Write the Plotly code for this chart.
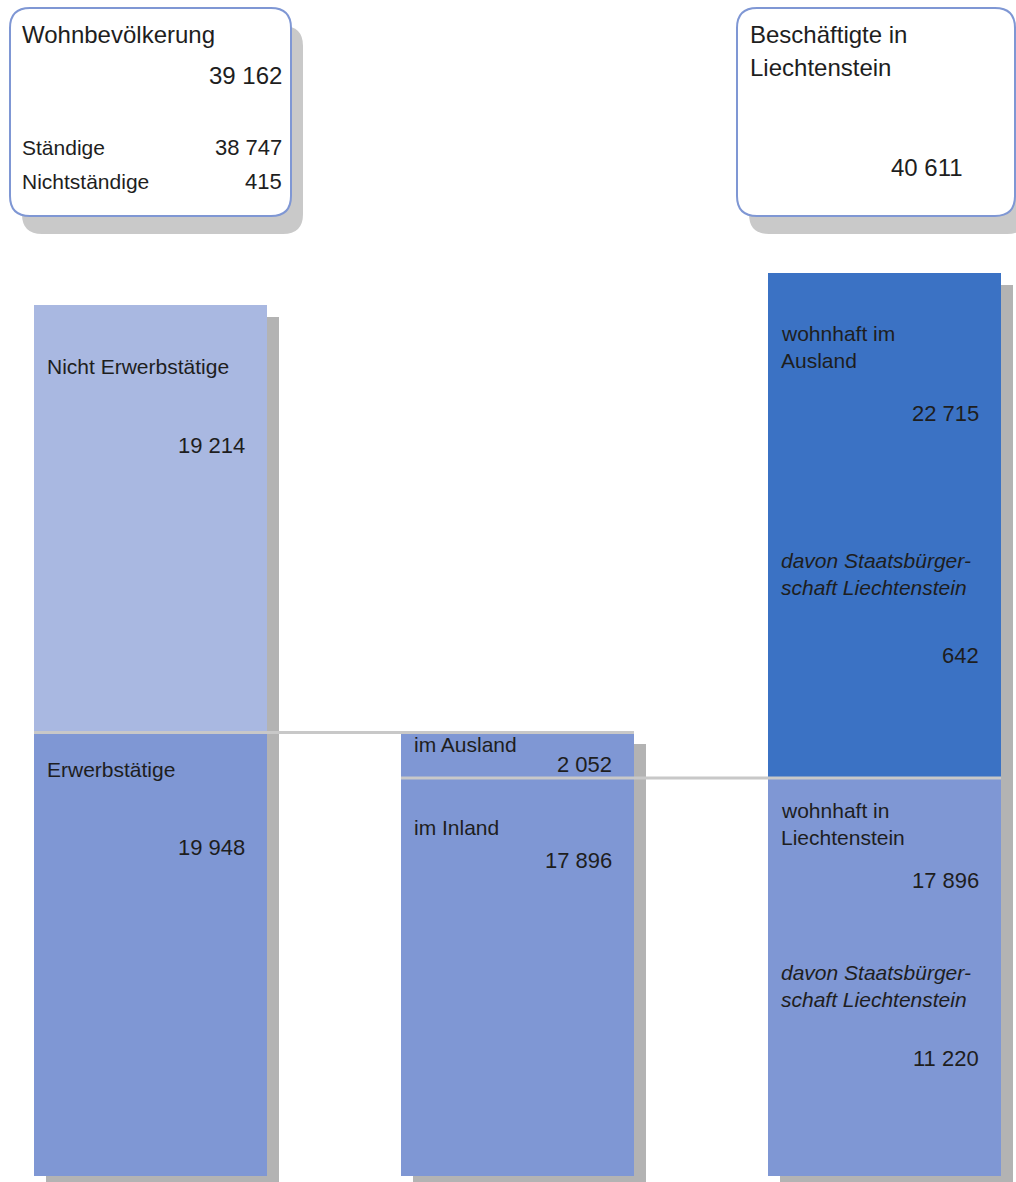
import plotly.graph_objects as go

W, H = 1016, 1182

# ---- data -------------------------------------------------------------
columns = [0, 1, 2]
lower_values = [19948, 17896, 17896]   # Erwerbstätige | im Inland | wohnhaft in Liechtenstein
upper_values = [19214, 2052, 22715]    # Nicht Erwerbstätige | im Ausland | wohnhaft im Ausland
lower_labels = [["Erwerbstätige"], ["im Inland"], ["wohnhaft in", "Liechtenstein"]]
upper_labels = [["Nicht Erwerbstätige"], ["im Ausland"], ["wohnhaft im", "Ausland"]]

# "davon Staatsbürgerschaft Liechtenstein" (third column only)
citizen_label = ["davon Staatsbürger-", "schaft Liechtenstein"]
citizen_upper = 642
citizen_lower = 11220

resident_title = "Wohnbevölkerung"
resident_parts = ["Ständige", "Nichtständige"]
resident_values = [38747, 415]
employed_title = ["Beschäftigte in", "Liechtenstein"]

# ---- styling ----------------------------------------------------------
LIGHT = "#a9b8e1"
MID = "#7f97d4"
DARK = "#3b72c4"
BAR_SHADOW = "#b3b3b3"
BOX_SHADOW = "#c9c9c9"
SEP = "#c8c8c8"
TEXT = "#1e1e1e"
FONT = "Liberation Sans"

upper_colors = [LIGHT, MID, DARK]
lower_colors = [MID, MID, MID]

# axis geometry (pixels -> data units)
PX_PER_UNIT = 903 / 40611            # vertical pixels per person
COL_STEP = 367                        # pixels between column centres
X_RANGE = [-150.5 / COL_STEP, (W - 150.5) / COL_STEP]
Y_RANGE = [-6 / PX_PER_UNIT, 1176 / PX_PER_UNIT]
BAR_W = 233 / COL_STEP
SH_DX = 12 / COL_STEP
SH_DY = 12 / PX_PER_UNIT


def fmt(v):
    return f"{v:,}".replace(",", " ")


totals = [lo + up for lo, up in zip(lower_values, upper_values)]

fig = go.Figure()

# drop shadows behind each column
fig.add_trace(go.Bar(
    x=columns, y=totals, base=[-SH_DY] * 3,
    width=BAR_W, offset=-BAR_W / 2 + SH_DX,
    marker=dict(color=BAR_SHADOW, line=dict(width=0)),
    hoverinfo="skip", showlegend=False,
))
# lower segments
fig.add_trace(go.Bar(
    x=columns, y=lower_values, base=[0, 0, 0],
    width=BAR_W, offset=-BAR_W / 2,
    marker=dict(color=lower_colors, line=dict(width=0)),
    showlegend=False,
))
# upper segments
fig.add_trace(go.Bar(
    x=columns, y=upper_values, base=lower_values,
    width=BAR_W, offset=-BAR_W / 2,
    marker=dict(color=upper_colors, line=dict(width=0)),
    showlegend=False,
))

shapes = []
# connector lines between the columns
shapes.append(dict(type="line", xref="x", yref="y",
                   x0=columns[0] - BAR_W / 2, x1=columns[1] + BAR_W / 2,
                   y0=lower_values[0], y1=lower_values[0],
                   line=dict(color=SEP, width=3)))
shapes.append(dict(type="line", xref="x", yref="y",
                   x0=columns[1] - BAR_W / 2, x1=columns[2] + BAR_W / 2,
                   y0=lower_values[1], y1=lower_values[1],
                   line=dict(color=SEP, width=3)))


def rounded(x0, y0, x1, y1, r):
    def P(x, y):
        return f"{x / W:.5f},{1 - y / H:.5f}"
    return (f"M{P(x0 + r, y0)} L{P(x1 - r, y0)} Q{P(x1, y0)} {P(x1, y0 + r)} "
            f"L{P(x1, y1 - r)} Q{P(x1, y1)} {P(x1 - r, y1)} "
            f"L{P(x0 + r, y1)} Q{P(x0, y1)} {P(x0, y1 - r)} "
            f"L{P(x0, y0 + r)} Q{P(x0, y0)} {P(x0 + r, y0)} Z")


for (bx0, by0, bx1, by1) in [(10, 8, 291, 216), (737, 8, 1015, 216)]:
    shapes.append(dict(type="path", xref="paper", yref="paper",
                       path=rounded(bx0 + 12, by0 + 18, bx1 + 12, by1 + 18, 20),
                       fillcolor=BOX_SHADOW, line=dict(width=0), layer="below"))
    shapes.append(dict(type="path", xref="paper", yref="paper",
                       path=rounded(bx0, by0, bx1, by1, 20),
                       fillcolor="white", line=dict(color=MID, width=2), layer="below"))

annotations = []


def seg_text(col, top, text, dy, side="left", italic=False, size=21):
    if side == "left":
        x, anchor = col - BAR_W / 2 + 11 / COL_STEP, "left"
    else:
        x, anchor = col + BAR_W / 2 - 20 / COL_STEP, "right"
    if italic:
        text = f"<i>{text}</i>"
    annotations.append(dict(x=x, y=top, xref="x", yref="y", text=text,
                            xanchor=anchor, yanchor="middle", yshift=-dy,
                            showarrow=False, font=dict(family=FONT, size=size, color=TEXT)))


# label / number offsets below each segment top (pixels)
upper_offsets = [([61], 140), ([12], 32), ([60, 87], 140)]
lower_offsets = [([37], 115), ([49], 82), ([32, 59], 102)]

for i, col in enumerate(columns):
    top_u = totals[i]
    lines, num_dy = upper_offsets[i]
    for ln, dy in zip(upper_labels[i], lines):
        seg_text(col, top_u, ln, dy)
    seg_text(col, top_u, fmt(upper_values[i]), num_dy, side="right", size=22)

    top_l = lower_values[i]
    lines, num_dy = lower_offsets[i]
    for ln, dy in zip(lower_labels[i], lines):
        seg_text(col, top_l, ln, dy)
    seg_text(col, top_l, fmt(lower_values[i]), num_dy, side="right", size=22)

# citizenship breakdown in the third column
for ln, dy in zip(citizen_label, [287, 314]):
    seg_text(columns[2], totals[2], ln, dy, italic=True)
seg_text(columns[2], totals[2], fmt(citizen_upper), 382, side="right", size=22)
for ln, dy in zip(citizen_label, [194, 221]):
    seg_text(columns[2], lower_values[2], ln, dy, italic=True)
seg_text(columns[2], lower_values[2], fmt(citizen_lower), 280, side="right", size=22)


def box_text(px, py, text, anchor="left", size=21):
    annotations.append(dict(x=px / W, y=1 - py / H, xref="paper", yref="paper",
                            text=text, xanchor=anchor, yanchor="middle",
                            showarrow=False, font=dict(family=FONT, size=size, color=TEXT)))


box_text(20, 35, resident_title, size=24)
box_text(284, 75, fmt(sum(resident_values)), anchor="right", size=24)
for name, val, py in zip(resident_parts, resident_values, [148, 181]):
    box_text(20, py, name)
    box_text(284, py, fmt(val), anchor="right", size=22)

for ln, py in zip(employed_title, [35, 67]):
    box_text(748, py, ln, size=24)
box_text(965, 167, fmt(totals[2]), anchor="right", size=24)

fig.update_layout(
    width=W, height=H,
    margin=dict(l=0, r=0, t=0, b=0),
    paper_bgcolor="white", plot_bgcolor="white",
    barmode="overlay", bargap=0,
    xaxis=dict(range=X_RANGE, visible=False, fixedrange=True),
    yaxis=dict(range=Y_RANGE, visible=False, fixedrange=True),
    shapes=shapes, annotations=annotations,
    showlegend=False,
)

fig.write_html("out.html")
